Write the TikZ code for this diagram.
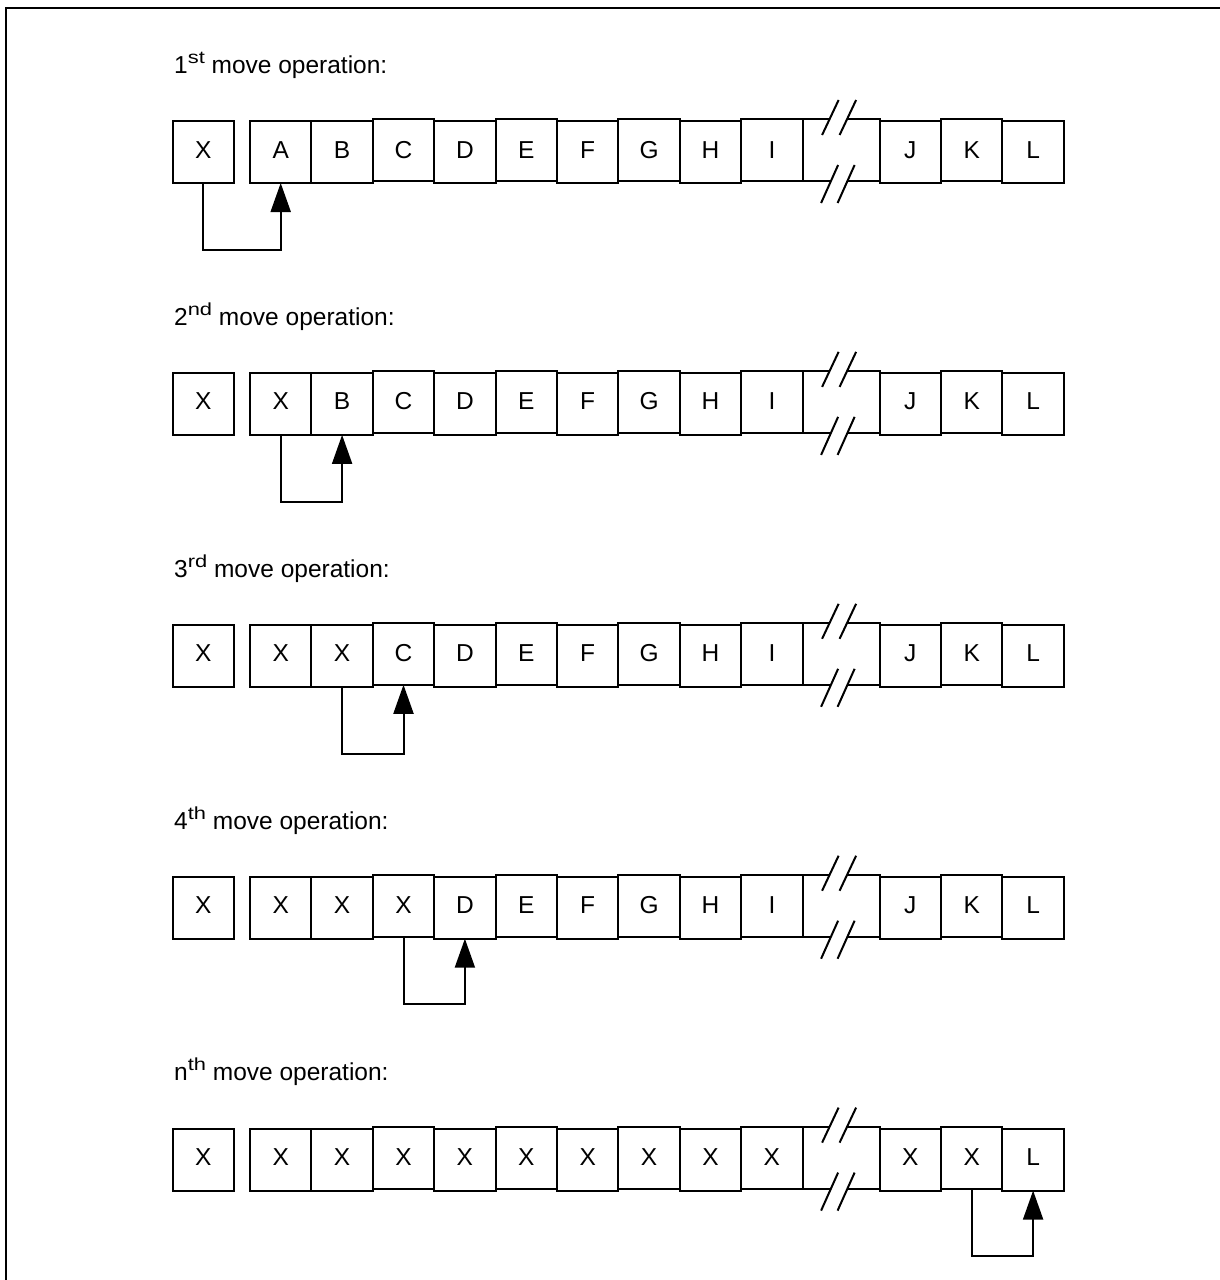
\documentclass[tikz,border=0pt]{standalone}
\usepackage{fontspec}
\setmainfont{Liberation Sans}
\usetikzlibrary{arrows.meta,calc}
\newcommand\mysup[1]{\raisebox{10pt}{\fontsize{17.5}{20}\selectfont\addfontfeatures{FakeStretch=1.25}#1}}
\begin{document}
\begin{tikzpicture}[x=1pt,y=-1pt,
  cell/.style={draw, line width=2pt, anchor=north west, outer sep=0pt, inner sep=0pt,
    minimum width=61.4pt, minimum height=62pt, text height=17pt, text depth=5pt,
    font=\fontsize{24.5}{29}\selectfont},
  brk/.style={cell, minimum width=77pt},
  titletext/.style={anchor=base west, inner sep=0pt, font=\fontsize{24.5}{29}\selectfont},
  mover/.style={line width=2pt, -{Triangle[length=29pt,width=20pt]}},
  slash/.style={line width=2pt}]
\useasboundingbox (0,0) rectangle (1220,1280);
\draw[line width=2pt] (6,1281) -- (6,8) -- (1221,8);

\foreach \r/\ord/\labs in {
  0/{1\mysup{st}}/{A,B,C,D,E,F,G,H,I,J,K,L},
  1/{2\mysup{nd}}/{X,B,C,D,E,F,G,H,I,J,K,L},
  2/{3\mysup{rd}}/{X,X,C,D,E,F,G,H,I,J,K,L},
  3/{4\mysup{th}}/{X,X,X,D,E,F,G,H,I,J,K,L},
  4/{n\mysup{th}}/{X,X,X,X,X,X,X,X,X,X,X,L}}{
  \pgfmathsetmacro\rtop{121+251.9*\r}
  \node[titletext] (t\r) at (174, {73.3+251.9*\r}) {\ord{} move operation:};
  \node[cell, minimum width=61.3pt] (x\r) at (172.7, \rtop) {X};
  \foreach \lab [count=\i,
      evaluate=\i as \xx using {\i<10 ? 250+(\i-1)*61.4 : 879.6+(\i-10)*61.4},
      evaluate=\i as \off using {(\i>2 && mod(\i,2)==1) ? -2 : 0}] in \labs {
    \node[cell, text height={17pt-\off pt}, text depth={5pt+\off pt}]
      (c\r-\i) at (\xx, {\rtop+\off}) {\lab};
  }
  \node[brk] (b\r) at (802.6, {\rtop-2}) {};
  % top break mark
  \fill[white] ($(b\r.north west)+(19.5,16)$) -- ($(b\r.north west)+(36,-19)$)
     -- ($(b\r.north west)+(53.5,-19)$) -- ($(b\r.north west)+(37,16)$) -- cycle;
  \draw[slash] ($(b\r.north west)+(19.5,16)$) -- ($(b\r.north west)+(36,-19)$);
  \draw[slash] ($(b\r.north west)+(37,16)$) -- ($(b\r.north west)+(53.5,-19)$);
  % bottom break mark
  \fill[white] ($(b\r.south west)+(18.5,22)$) -- ($(b\r.south west)+(35.5,-16)$)
     -- ($(b\r.south west)+(52,-16)$) -- ($(b\r.south west)+(35,22)$) -- cycle;
  \draw[slash] ($(b\r.south west)+(18.5,22)$) -- ($(b\r.south west)+(35.5,-16)$);
  \draw[slash] ($(b\r.south west)+(35,22)$) -- ($(b\r.south west)+(52,-16)$);
}

\draw[mover] (x0.south) -- ++(0,67) -| (c0-1.south);
\draw[mover] (c1-1.south) -- ++(0,67) -| (c1-2.south);
\draw[mover] (c2-2.south) -- ++(0,67) -| (c2-3.south);
\draw[mover] (c3-3.south) -- ++(0,67) -| (c3-4.south);
\draw[mover] (c4-11.south) -- ++(0,67) -| (c4-12.south);
\end{tikzpicture}
\end{document}
